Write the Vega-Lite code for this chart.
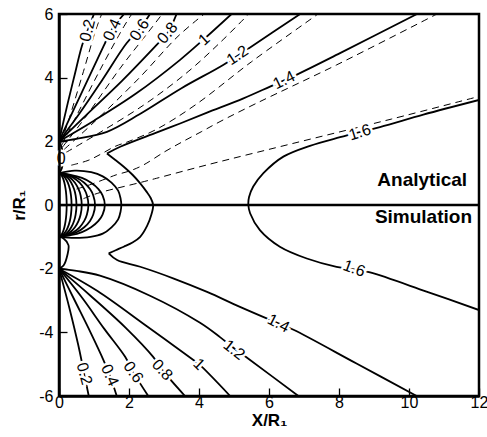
{
"$schema":"https://vega.github.io/schema/vega-lite/v6.json",
"width":420,"height":382,"autosize":"none",
"padding":{"left":59,"top":14,"right":8,"bottom":41},
"config":{"view":{"stroke":"black","strokeWidth":2.5},"font":"Liberation Sans"},
"datasets":{
"lines":[
{"id":"U02","k":"s","o":1,"x":0,"y":2},{"id":"U02","k":"s","o":2,"x":0.25,"y":3.2},{"id":"U02","k":"s","o":3,"x":0.45,"y":4.1},{"id":"U02","k":"s","o":4,"x":0.65,"y":4.98},{"id":"U02","k":"s","o":5,"x":0.82,"y":5.5},{"id":"U02","k":"s","o":6,"x":1.0,"y":6},
{"id":"U04","k":"s","o":1,"x":0,"y":2},{"id":"U04","k":"s","o":2,"x":0.4,"y":2.95},{"id":"U04","k":"s","o":3,"x":0.85,"y":4.0},{"id":"U04","k":"s","o":4,"x":1.27,"y":4.98},{"id":"U04","k":"s","o":5,"x":1.5,"y":5.5},{"id":"U04","k":"s","o":6,"x":1.86,"y":6},
{"id":"U06","k":"s","o":1,"x":0,"y":2},{"id":"U06","k":"s","o":2,"x":0.6,"y":2.9},{"id":"U06","k":"s","o":3,"x":1.25,"y":3.95},{"id":"U06","k":"s","o":4,"x":1.93,"y":5.08},{"id":"U06","k":"s","o":5,"x":2.3,"y":5.52},{"id":"U06","k":"s","o":6,"x":2.6,"y":6},
{"id":"U08","k":"s","o":1,"x":0,"y":2},{"id":"U08","k":"s","o":2,"x":0.8,"y":2.85},{"id":"U08","k":"s","o":3,"x":1.8,"y":3.9},{"id":"U08","k":"s","o":4,"x":2.79,"y":5.03},{"id":"U08","k":"s","o":5,"x":3.1,"y":5.4},{"id":"U08","k":"s","o":6,"x":3.36,"y":6},
{"id":"U10","k":"s","o":1,"x":0,"y":2},{"id":"U10","k":"s","o":2,"x":1.0,"y":2.65},{"id":"U10","k":"s","o":3,"x":2.2,"y":3.5},{"id":"U10","k":"s","o":4,"x":3.46,"y":4.56},{"id":"U10","k":"s","o":5,"x":4.12,"y":5.19},{"id":"U10","k":"s","o":6,"x":4.93,"y":6},
{"id":"U12","k":"s","o":1,"x":0,"y":2},{"id":"U12","k":"s","o":2,"x":0.5,"y":2.08},{"id":"U12","k":"s","o":3,"x":1.37,"y":2.3},{"id":"U12","k":"s","o":4,"x":2.3,"y":2.85},{"id":"U12","k":"s","o":5,"x":3.5,"y":3.67},{"id":"U12","k":"s","o":6,"x":4.69,"y":4.4},{"id":"U12","k":"s","o":7,"x":5.46,"y":4.95},{"id":"U12","k":"s","o":8,"x":6.89,"y":6},
{"id":"U14","k":"s","o":1,"x":1.37,"y":1.62},{"id":"U14","k":"s","o":2,"x":1.75,"y":1.83},{"id":"U14","k":"s","o":3,"x":2.8,"y":2.28},{"id":"U14","k":"s","o":4,"x":3.46,"y":2.56},{"id":"U14","k":"s","o":5,"x":4.23,"y":2.9},{"id":"U14","k":"s","o":6,"x":5.27,"y":3.35},{"id":"U14","k":"s","o":7,"x":6.03,"y":3.72},{"id":"U14","k":"s","o":8,"x":6.84,"y":4.12},{"id":"U14","k":"s","o":9,"x":8.03,"y":4.77},{"id":"U14","k":"s","o":10,"x":10.23,"y":6},
{"id":"M14","k":"s","o":1,"x":1.37,"y":1.62},{"id":"M14","k":"s","o":2,"x":1.6,"y":1.42},{"id":"M14","k":"s","o":3,"x":1.85,"y":1.2},{"id":"M14","k":"s","o":4,"x":2.1,"y":0.95},{"id":"M14","k":"s","o":5,"x":2.32,"y":0.68},{"id":"M14","k":"s","o":6,"x":2.5,"y":0.42},{"id":"M14","k":"s","o":7,"x":2.62,"y":0.22},{"id":"M14","k":"s","o":8,"x":2.69,"y":0},{"id":"M14","k":"s","o":9,"x":2.64,"y":-0.3},{"id":"M14","k":"s","o":10,"x":2.52,"y":-0.65},{"id":"M14","k":"s","o":11,"x":2.32,"y":-1.0},{"id":"M14","k":"s","o":12,"x":2.1,"y":-1.18},{"id":"M14","k":"s","o":13,"x":1.85,"y":-1.31},{"id":"M14","k":"s","o":14,"x":1.62,"y":-1.42},{"id":"M14","k":"s","o":15,"x":1.42,"y":-1.52},
{"id":"L14","k":"s","o":1,"x":1.42,"y":-1.52},{"id":"L14","k":"s","o":2,"x":1.66,"y":-1.73},{"id":"L14","k":"s","o":3,"x":2.32,"y":-1.94},{"id":"L14","k":"s","o":4,"x":3.28,"y":-2.31},{"id":"L14","k":"s","o":5,"x":4.23,"y":-2.73},{"id":"L14","k":"s","o":6,"x":5.17,"y":-3.2},{"id":"L14","k":"s","o":7,"x":6.27,"y":-3.72},{"id":"L14","k":"s","o":8,"x":6.7,"y":-3.92},{"id":"L14","k":"s","o":9,"x":8.5,"y":-4.98},{"id":"L14","k":"s","o":10,"x":10.22,"y":-6},
{"id":"L02","k":"s","o":1,"x":0,"y":-2},{"id":"L02","k":"s","o":2,"x":0.3,"y":-3.25},{"id":"L02","k":"s","o":3,"x":0.55,"y":-4.4},{"id":"L02","k":"s","o":4,"x":0.72,"y":-5.3},{"id":"L02","k":"s","o":5,"x":0.85,"y":-6},
{"id":"L04","k":"s","o":1,"x":0,"y":-2},{"id":"L04","k":"s","o":2,"x":0.45,"y":-3.0},{"id":"L04","k":"s","o":3,"x":0.9,"y":-4.0},{"id":"L04","k":"s","o":4,"x":1.27,"y":-4.87},{"id":"L04","k":"s","o":5,"x":1.45,"y":-5.35},{"id":"L04","k":"s","o":6,"x":1.65,"y":-6},
{"id":"L06","k":"s","o":1,"x":0,"y":-2},{"id":"L06","k":"s","o":2,"x":0.65,"y":-2.9},{"id":"L06","k":"s","o":3,"x":1.3,"y":-3.9},{"id":"L06","k":"s","o":4,"x":1.89,"y":-4.77},{"id":"L06","k":"s","o":5,"x":2.12,"y":-5.25},{"id":"L06","k":"s","o":6,"x":2.55,"y":-6},
{"id":"L08","k":"s","o":1,"x":0,"y":-2},{"id":"L08","k":"s","o":2,"x":0.9,"y":-2.85},{"id":"L08","k":"s","o":3,"x":1.9,"y":-3.85},{"id":"L08","k":"s","o":4,"x":2.69,"y":-4.77},{"id":"L08","k":"s","o":5,"x":2.95,"y":-5.18},{"id":"L08","k":"s","o":6,"x":3.6,"y":-6},
{"id":"L10","k":"s","o":1,"x":0,"y":-2},{"id":"L10","k":"s","o":2,"x":1.1,"y":-2.7},{"id":"L10","k":"s","o":3,"x":2.5,"y":-3.8},{"id":"L10","k":"s","o":4,"x":3.84,"y":-4.87},{"id":"L10","k":"s","o":5,"x":4.0,"y":-5.0},{"id":"L10","k":"s","o":6,"x":4.89,"y":-6},
{"id":"L12","k":"s","o":1,"x":0,"y":-2},{"id":"L12","k":"s","o":2,"x":0.5,"y":-2.07},{"id":"L12","k":"s","o":3,"x":1.17,"y":-2.22},{"id":"L12","k":"s","o":4,"x":2.6,"y":-2.85},{"id":"L12","k":"s","o":5,"x":4.03,"y":-3.7},{"id":"L12","k":"s","o":6,"x":4.6,"y":-4.15},{"id":"L12","k":"s","o":7,"x":5.0,"y":-4.5},{"id":"L12","k":"s","o":8,"x":5.46,"y":-4.87},{"id":"L12","k":"s","o":9,"x":6.84,"y":-6},
{"id":"S16","k":"s","o":1,"x":12,"y":3.3},{"id":"S16","k":"s","o":2,"x":10.41,"y":2.84},{"id":"S16","k":"s","o":3,"x":9.17,"y":2.45},{"id":"S16","k":"s","o":4,"x":8.03,"y":2.13},{"id":"S16","k":"s","o":5,"x":7.17,"y":1.86},{"id":"S16","k":"s","o":6,"x":6.41,"y":1.52},{"id":"S16","k":"s","o":7,"x":5.84,"y":1.0},{"id":"S16","k":"s","o":8,"x":5.55,"y":0.58},{"id":"S16","k":"s","o":9,"x":5.43,"y":0.25},{"id":"S16","k":"s","o":10,"x":5.41,"y":0},{"id":"S16","k":"s","o":11,"x":5.46,"y":-0.26},{"id":"S16","k":"s","o":12,"x":5.74,"y":-0.79},{"id":"S16","k":"s","o":13,"x":6.31,"y":-1.31},{"id":"S16","k":"s","o":14,"x":7.08,"y":-1.68},{"id":"S16","k":"s","o":15,"x":7.93,"y":-1.94},{"id":"S16","k":"s","o":16,"x":8.43,"y":-2.02},{"id":"S16","k":"s","o":17,"x":8.89,"y":-2.12},{"id":"S16","k":"s","o":18,"x":10.5,"y":-2.72},{"id":"S16","k":"s","o":19,"x":12,"y":-3.3},
{"id":"P22","k":"s","o":1,"x":0,"y":1},{"id":"P22","k":"s","o":2,"x":0.055,"y":0.95},{"id":"P22","k":"s","o":3,"x":0.11,"y":0.85},{"id":"P22","k":"s","o":4,"x":0.154,"y":0.7},{"id":"P22","k":"s","o":5,"x":0.189,"y":0.5},{"id":"P22","k":"s","o":6,"x":0.209,"y":0.3},{"id":"P22","k":"s","o":7,"x":0.22,"y":0},{"id":"P22","k":"s","o":8,"x":0.209,"y":-0.3},{"id":"P22","k":"s","o":9,"x":0.189,"y":-0.5},{"id":"P22","k":"s","o":10,"x":0.154,"y":-0.7},{"id":"P22","k":"s","o":11,"x":0.11,"y":-0.85},{"id":"P22","k":"s","o":12,"x":0.055,"y":-0.95},{"id":"P22","k":"s","o":13,"x":0,"y":-1},
{"id":"P36","k":"s","o":1,"x":0,"y":1},{"id":"P36","k":"s","o":2,"x":0.09,"y":0.95},{"id":"P36","k":"s","o":3,"x":0.18,"y":0.85},{"id":"P36","k":"s","o":4,"x":0.252,"y":0.7},{"id":"P36","k":"s","o":5,"x":0.31,"y":0.5},{"id":"P36","k":"s","o":6,"x":0.342,"y":0.3},{"id":"P36","k":"s","o":7,"x":0.36,"y":0},{"id":"P36","k":"s","o":8,"x":0.342,"y":-0.3},{"id":"P36","k":"s","o":9,"x":0.31,"y":-0.5},{"id":"P36","k":"s","o":10,"x":0.252,"y":-0.7},{"id":"P36","k":"s","o":11,"x":0.18,"y":-0.85},{"id":"P36","k":"s","o":12,"x":0.09,"y":-0.95},{"id":"P36","k":"s","o":13,"x":0,"y":-1},
{"id":"P50","k":"s","o":1,"x":0,"y":1},{"id":"P50","k":"s","o":2,"x":0.125,"y":0.95},{"id":"P50","k":"s","o":3,"x":0.25,"y":0.85},{"id":"P50","k":"s","o":4,"x":0.35,"y":0.7},{"id":"P50","k":"s","o":5,"x":0.43,"y":0.5},{"id":"P50","k":"s","o":6,"x":0.475,"y":0.3},{"id":"P50","k":"s","o":7,"x":0.5,"y":0},{"id":"P50","k":"s","o":8,"x":0.475,"y":-0.3},{"id":"P50","k":"s","o":9,"x":0.43,"y":-0.5},{"id":"P50","k":"s","o":10,"x":0.35,"y":-0.7},{"id":"P50","k":"s","o":11,"x":0.25,"y":-0.85},{"id":"P50","k":"s","o":12,"x":0.125,"y":-0.95},{"id":"P50","k":"s","o":13,"x":0,"y":-1},
{"id":"P65","k":"s","o":1,"x":0,"y":1},{"id":"P65","k":"s","o":2,"x":0.163,"y":0.95},{"id":"P65","k":"s","o":3,"x":0.325,"y":0.85},{"id":"P65","k":"s","o":4,"x":0.455,"y":0.7},{"id":"P65","k":"s","o":5,"x":0.559,"y":0.5},{"id":"P65","k":"s","o":6,"x":0.618,"y":0.3},{"id":"P65","k":"s","o":7,"x":0.65,"y":0},{"id":"P65","k":"s","o":8,"x":0.618,"y":-0.3},{"id":"P65","k":"s","o":9,"x":0.559,"y":-0.5},{"id":"P65","k":"s","o":10,"x":0.455,"y":-0.7},{"id":"P65","k":"s","o":11,"x":0.325,"y":-0.85},{"id":"P65","k":"s","o":12,"x":0.163,"y":-0.95},{"id":"P65","k":"s","o":13,"x":0,"y":-1},
{"id":"P84","k":"s","o":1,"x":0,"y":1},{"id":"P84","k":"s","o":2,"x":0.21,"y":0.95},{"id":"P84","k":"s","o":3,"x":0.42,"y":0.85},{"id":"P84","k":"s","o":4,"x":0.588,"y":0.7},{"id":"P84","k":"s","o":5,"x":0.722,"y":0.5},{"id":"P84","k":"s","o":6,"x":0.798,"y":0.3},{"id":"P84","k":"s","o":7,"x":0.84,"y":0},{"id":"P84","k":"s","o":8,"x":0.798,"y":-0.3},{"id":"P84","k":"s","o":9,"x":0.722,"y":-0.5},{"id":"P84","k":"s","o":10,"x":0.588,"y":-0.7},{"id":"P84","k":"s","o":11,"x":0.42,"y":-0.85},{"id":"P84","k":"s","o":12,"x":0.21,"y":-0.95},{"id":"P84","k":"s","o":13,"x":0,"y":-1},
{"id":"P103","k":"s","o":1,"x":0,"y":1},{"id":"P103","k":"s","o":2,"x":0.258,"y":0.95},{"id":"P103","k":"s","o":3,"x":0.515,"y":0.85},{"id":"P103","k":"s","o":4,"x":0.721,"y":0.7},{"id":"P103","k":"s","o":5,"x":0.886,"y":0.5},{"id":"P103","k":"s","o":6,"x":0.979,"y":0.3},{"id":"P103","k":"s","o":7,"x":1.03,"y":0},{"id":"P103","k":"s","o":8,"x":0.979,"y":-0.3},{"id":"P103","k":"s","o":9,"x":0.886,"y":-0.5},{"id":"P103","k":"s","o":10,"x":0.721,"y":-0.7},{"id":"P103","k":"s","o":11,"x":0.515,"y":-0.85},{"id":"P103","k":"s","o":12,"x":0.258,"y":-0.95},{"id":"P103","k":"s","o":13,"x":0,"y":-1},
{"id":"P131","k":"s","o":1,"x":0,"y":1},{"id":"P131","k":"s","o":2,"x":0.328,"y":0.95},{"id":"P131","k":"s","o":3,"x":0.655,"y":0.85},{"id":"P131","k":"s","o":4,"x":0.917,"y":0.7},{"id":"P131","k":"s","o":5,"x":1.127,"y":0.5},{"id":"P131","k":"s","o":6,"x":1.245,"y":0.3},{"id":"P131","k":"s","o":7,"x":1.31,"y":0},{"id":"P131","k":"s","o":8,"x":1.245,"y":-0.3},{"id":"P131","k":"s","o":9,"x":1.127,"y":-0.5},{"id":"P131","k":"s","o":10,"x":0.917,"y":-0.7},{"id":"P131","k":"s","o":11,"x":0.655,"y":-0.85},{"id":"P131","k":"s","o":12,"x":0.328,"y":-0.95},{"id":"P131","k":"s","o":13,"x":0,"y":-1},
{"id":"P178","k":"s","o":1,"x":0,"y":1},{"id":"P178","k":"s","o":2,"x":0.45,"y":1.08},{"id":"P178","k":"s","o":3,"x":0.92,"y":1.03},{"id":"P178","k":"s","o":4,"x":1.25,"y":0.9},{"id":"P178","k":"s","o":5,"x":1.5,"y":0.7},{"id":"P178","k":"s","o":6,"x":1.69,"y":0.45},{"id":"P178","k":"s","o":7,"x":1.76,"y":0.2},{"id":"P178","k":"s","o":8,"x":1.78,"y":0},{"id":"P178","k":"s","o":9,"x":1.76,"y":-0.2},{"id":"P178","k":"s","o":10,"x":1.69,"y":-0.45},{"id":"P178","k":"s","o":11,"x":1.5,"y":-0.7},{"id":"P178","k":"s","o":12,"x":1.25,"y":-0.9},{"id":"P178","k":"s","o":13,"x":0.9,"y":-1.0},{"id":"P178","k":"s","o":14,"x":0.45,"y":-1.03},{"id":"P178","k":"s","o":15,"x":0,"y":-1},
{"id":"W0","k":"s","o":1,"x":0,"y":1},{"id":"W0","k":"s","o":2,"x":0.08,"y":1.15},{"id":"W0","k":"s","o":3,"x":0.12,"y":1.45},{"id":"W0","k":"s","o":4,"x":0.08,"y":1.8},{"id":"W0","k":"s","o":5,"x":0,"y":2},
{"id":"W1","k":"s","o":1,"x":0,"y":-1},{"id":"W1","k":"s","o":2,"x":0.13,"y":-1.05},{"id":"W1","k":"s","o":3,"x":0.27,"y":-1.26},{"id":"W1","k":"s","o":4,"x":0.24,"y":-1.57},{"id":"W1","k":"s","o":5,"x":0.13,"y":-1.9},{"id":"W1","k":"s","o":6,"x":0,"y":-2},
{"id":"da","k":"d","o":1,"x":0.05,"y":1.92},{"id":"da","k":"d","o":2,"x":0.3,"y":2.75},{"id":"da","k":"d","o":3,"x":0.7,"y":4.2},{"id":"da","k":"d","o":4,"x":1.05,"y":5.5},{"id":"da","k":"d","o":5,"x":1.22,"y":6},
{"id":"db","k":"d","o":1,"x":0.08,"y":1.88},{"id":"db","k":"d","o":2,"x":0.5,"y":2.8},{"id":"db","k":"d","o":3,"x":1.2,"y":4.3},{"id":"db","k":"d","o":4,"x":1.85,"y":5.6},{"id":"db","k":"d","o":5,"x":2.08,"y":6},
{"id":"dc","k":"d","o":1,"x":0.1,"y":1.82},{"id":"dc","k":"d","o":2,"x":0.75,"y":2.75},{"id":"dc","k":"d","o":3,"x":1.75,"y":4.3},{"id":"dc","k":"d","o":4,"x":2.6,"y":5.5},{"id":"dc","k":"d","o":5,"x":2.95,"y":6},
{"id":"dd","k":"d","o":1,"x":0.15,"y":1.75},{"id":"dd","k":"d","o":2,"x":1.0,"y":2.6},{"id":"dd","k":"d","o":3,"x":2.3,"y":4.0},{"id":"dd","k":"d","o":4,"x":3.4,"y":5.3},{"id":"dd","k":"d","o":5,"x":4.15,"y":6},
{"id":"de","k":"d","o":1,"x":0.2,"y":1.65},{"id":"de","k":"d","o":2,"x":1.2,"y":2.3},{"id":"de","k":"d","o":3,"x":2.5,"y":3.2},{"id":"de","k":"d","o":4,"x":3.69,"y":4.19},{"id":"de","k":"d","o":5,"x":4.6,"y":5.1},{"id":"de","k":"d","o":6,"x":5.42,"y":6},
{"id":"df","k":"d","o":1,"x":0.35,"y":1.25},{"id":"df","k":"d","o":2,"x":0.83,"y":1.4},{"id":"df","k":"d","o":3,"x":1.2,"y":1.6},{"id":"df","k":"d","o":4,"x":1.6,"y":1.84},{"id":"df","k":"d","o":5,"x":2.0,"y":2.0},{"id":"df","k":"d","o":6,"x":2.79,"y":2.38},{"id":"df","k":"d","o":7,"x":3.89,"y":3.14},{"id":"df","k":"d","o":8,"x":5.5,"y":4.5},{"id":"df","k":"d","o":9,"x":7.17,"y":5.82},{"id":"df","k":"d","o":10,"x":7.4,"y":6},
{"id":"dg","k":"d","o":1,"x":0.5,"y":0.5},{"id":"dg","k":"d","o":2,"x":0.92,"y":0.65},{"id":"dg","k":"d","o":3,"x":1.4,"y":0.85},{"id":"dg","k":"d","o":4,"x":1.64,"y":0.95},{"id":"dg","k":"d","o":5,"x":2.02,"y":1.07},{"id":"dg","k":"d","o":6,"x":2.4,"y":1.25},{"id":"dg","k":"d","o":7,"x":3.03,"y":1.68},{"id":"dg","k":"d","o":8,"x":3.55,"y":2.0},{"id":"dg","k":"d","o":9,"x":4.08,"y":2.31},{"id":"dg","k":"d","o":10,"x":4.6,"y":2.62},{"id":"dg","k":"d","o":11,"x":5.65,"y":3.2},{"id":"dg","k":"d","o":12,"x":7.93,"y":4.4},{"id":"dg","k":"d","o":13,"x":10.8,"y":6},
{"id":"dh","k":"d","o":1,"x":0.7,"y":0.2},{"id":"dh","k":"d","o":2,"x":1.0,"y":0.33},{"id":"dh","k":"d","o":3,"x":1.3,"y":0.43},{"id":"dh","k":"d","o":4,"x":2.3,"y":0.7},{"id":"dh","k":"d","o":5,"x":2.79,"y":0.84},{"id":"dh","k":"d","o":6,"x":4.23,"y":1.26},{"id":"dh","k":"d","o":7,"x":6.89,"y":1.99},{"id":"dh","k":"d","o":8,"x":9.5,"y":2.7},{"id":"dh","k":"d","o":9,"x":12,"y":3.41}
],
"labels":[
{"t":"0.2","x":0.82,"y":5.48,"a":-76},{"t":"0.4","x":1.52,"y":5.5,"a":-66},{"t":"0.6","x":2.3,"y":5.5,"a":-57},{"t":"0.8","x":3.1,"y":5.4,"a":-50},{"t":"1","x":4.15,"y":5.2,"a":-42},{"t":"1.2","x":5.1,"y":4.7,"a":-33},{"t":"1.4","x":6.43,"y":3.92,"a":-26},{"t":"1.6","x":8.6,"y":2.28,"a":-17},{"t":"0","x":0.06,"y":1.43,"a":0},
{"t":"0.2","x":0.72,"y":-5.3,"a":75},{"t":"0.4","x":1.45,"y":-5.35,"a":66},{"t":"0.6","x":2.12,"y":-5.25,"a":55},{"t":"0.8","x":2.95,"y":-5.18,"a":47},{"t":"1","x":4.0,"y":-5.0,"a":44},{"t":"1.2","x":5.0,"y":-4.55,"a":38},{"t":"1.4","x":6.27,"y":-3.72,"a":27},{"t":"1.6","x":8.43,"y":-2.0,"a":20}
],
"notes":[{"t":"Analytical","x":11.66,"y":0.79},{"t":"Simulation","x":11.8,"y":-0.38}],
"zero":[{"y":0}]
},
"layer":[
{"data":{"name":"lines"},"transform":[{"filter":"datum.k==='s'"}],
 "mark":{"type":"line","color":"black","strokeWidth":1.8,"interpolate":"catmull-rom","clip":true},
 "encoding":{
  "x":{"field":"x","type":"quantitative","scale":{"domain":[0,12],"nice":false,"zero":false},
   "axis":{"values":[0,0.5,1,1.5,2,2.5,3,3.5,4,4.5,5,5.5,6,6.5,7,7.5,8,8.5,9,9.5,10,10.5,11,11.5,12],
    "labelExpr":"datum.value % 2 === 0 ? '' + datum.value : ''","labelOverlap":false,"labelFlush":false,
    "tickSize":{"condition":{"test":"datum.value % 2 === 0","value":-8},"value":-4},
    "tickColor":"black","tickWidth":1.3,"domainColor":"black","domainWidth":2.5,"grid":false,
    "labelColor":"black","labelFontSize":16,"labelFont":"Liberation Sans","labelPadding":6,
    "title":"X/R₁","titleFont":"Liberation Sans","titleFontSize":17,"titleFontWeight":"bold","titleColor":"black","titlePadding":2,"zindex":1}},
  "y":{"field":"y","type":"quantitative","scale":{"domain":[-6,6],"nice":false,"zero":false},
   "axis":{"values":[-6,-5.5,-5,-4.5,-4,-3.5,-3,-2.5,-2,-1.5,-1,-0.5,0,0.5,1,1.5,2,2.5,3,3.5,4,4.5,5,5.5,6],
    "labelExpr":"datum.value % 2 === 0 ? '' + datum.value : ''","labelOverlap":false,"labelFlush":false,
    "tickSize":{"condition":{"test":"datum.value % 2 === 0","value":-8},"value":-4},
    "tickColor":"black","tickWidth":1.3,"domainColor":"black","domainWidth":2.5,"grid":false,
    "labelColor":"black","labelFontSize":16,"labelFont":"Liberation Sans","labelPadding":14,
    "title":"r/R₁","titleFont":"Liberation Sans","titleFontSize":17,"titleFontWeight":"bold","titleColor":"black","titlePadding":10,"zindex":1}},
  "detail":{"field":"id"},"order":{"field":"o","type":"quantitative"}}},
{"data":{"name":"lines"},"transform":[{"filter":"datum.k==='d'"}],
 "mark":{"type":"line","color":"black","strokeWidth":1,"strokeDash":[7,5],"interpolate":"catmull-rom","clip":true},
 "encoding":{"x":{"field":"x","type":"quantitative"},"y":{"field":"y","type":"quantitative"},
  "detail":{"field":"id"},"order":{"field":"o","type":"quantitative"}}},
{"data":{"name":"zero"},"mark":{"type":"rule","color":"black","strokeWidth":2.5},"encoding":{"y":{"field":"y","type":"quantitative"}}},
{"data":{"name":"labels"},
 "mark":{"type":"text","font":"Liberation Sans","fontSize":16,"color":"white","stroke":"white","strokeWidth":5,"align":"center","baseline":"middle"},
 "encoding":{"x":{"field":"x","type":"quantitative"},"y":{"field":"y","type":"quantitative"},"text":{"field":"t"},"angle":{"field":"a","type":"quantitative","scale":null}}},
{"data":{"name":"labels"},
 "mark":{"type":"text","font":"Liberation Sans","fontSize":16,"color":"black","align":"center","baseline":"middle"},
 "encoding":{"x":{"field":"x","type":"quantitative"},"y":{"field":"y","type":"quantitative"},"text":{"field":"t"},"angle":{"field":"a","type":"quantitative","scale":null}}},
{"data":{"name":"notes"},
 "mark":{"type":"text","font":"Liberation Sans","fontSize":19,"fontWeight":"bold","color":"black","align":"right","baseline":"middle"},
 "encoding":{"x":{"field":"x","type":"quantitative"},"y":{"field":"y","type":"quantitative"},"text":{"field":"t"}}}
]
}
